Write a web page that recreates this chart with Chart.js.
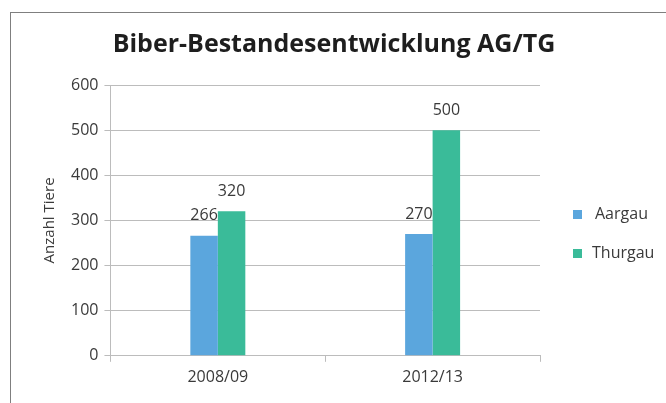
<!DOCTYPE html>
<html>
<head>
<meta charset="utf-8">
<script src="https://cdn.jsdelivr.net/npm/chart.js@4/dist/chart.umd.min.js"></script>
<style>
  body { margin: 0; background: #fff; }
  #frame { position: absolute; left: 10px; top: 12px; width: 700px; height: 420px; border: 1px solid #7f7f7f; }
  #wrap { position: absolute; left: 0; top: 0; width: 666px; height: 403px; }
</style>
</head>
<body>
<div id="frame"></div>
<div id="wrap"><canvas id="chart"></canvas></div>
<script>
const chartTitle = 'Biber-Bestandesentwicklung AG/TG';
const periods = ['2008/09', '2012/13'];
const aargau = [266, 270];
const thurgau = [320, 500];
const seriesNames = ['Aargau', 'Thurgau'];
const seriesColors = ['#5ba6dd', '#3abb99'];
const textColor = '#3a3a3a';
const gridColor = '#bcbcbc';

// title centred over the whole frame (layout padding would shift the built-in one)
const frameTitle = {
    id: 'frameTitle',
    afterDraw(chart) {
        const ctx = chart.ctx;
        ctx.save();
        ctx.font = 'bold 25px "Open Sans"';
        ctx.fillStyle = '#1e1e1e';
        ctx.textAlign = 'center';
        ctx.textBaseline = 'middle';
        ctx.fillText(chartTitle, 334, 45);
        ctx.restore();
    }
};

// value labels above each bar
const valueLabels = {
    id: 'valueLabels',
    afterDatasetsDraw(chart) {
        const ctx = chart.ctx;
        ctx.save();
        ctx.font = '16px "Open Sans"';
        ctx.fillStyle = textColor;
        ctx.textAlign = 'center';
        ctx.textBaseline = 'middle';
        chart.data.datasets.forEach((ds, i) => {
            chart.getDatasetMeta(i).data.forEach((bar, j) => {
                ctx.fillText(ds.data[j], bar.x, bar.y - 20);
            });
        });
        ctx.restore();
    }
};

// legend on the right, drawn from the dataset labels/colours
const sideLegend = {
    id: 'sideLegend',
    afterDraw(chart) {
        const ctx = chart.ctx;
        ctx.save();
        ctx.font = '16px "Open Sans"';
        ctx.textBaseline = 'middle';
        chart.data.datasets.forEach((ds, i) => {
            const y = 214 + i * 39;
            ctx.fillStyle = ds.backgroundColor;
            ctx.fillRect(573, y - 4, 9, 9);
            ctx.fillStyle = textColor;
            ctx.fillText(ds.label, i === 0 ? 595 : 592, y);
        });
        ctx.restore();
    }
};

new Chart(document.getElementById('chart').getContext('2d'), {
    type: 'bar',
    data: {
        labels: periods,
        datasets: [
            { label: seriesNames[0], data: aargau, backgroundColor: seriesColors[0] },
            { label: seriesNames[1], data: thurgau, backgroundColor: seriesColors[1] }
        ]
    },
    options: {
        responsive: true,
        maintainAspectRatio: false,
        animation: false,
        categoryPercentage: 0.256,
        barPercentage: 1.0,
        layout: { padding: { left: 37, right: 126, top: 85, bottom: 10 } },
        plugins: {
            legend: { display: false },
            tooltip: { enabled: false },
            title: { display: false }
        },
        scales: {
            x: {
                grid: { drawOnChartArea: false, drawTicks: true, tickLength: 6, color: gridColor, offset: true },
                border: { color: gridColor },
                ticks: { color: textColor, font: { family: 'Open Sans', size: 16 }, padding: 6 }
            },
            y: {
                min: 0,
                max: 600,
                ticks: { stepSize: 100, color: textColor, font: { family: 'Open Sans', size: 16 }, padding: 6 },
                grid: { color: gridColor, tickLength: 6 },
                border: { color: gridColor },
                title: {
                    display: true,
                    text: 'Anzahl Tiere',
                    color: textColor,
                    font: { family: 'Open Sans', size: 15 },
                    padding: { bottom: 6 }
                }
            }
        }
    },
    plugins: [frameTitle, valueLabels, sideLegend]
});
</script>
</body>
</html>
